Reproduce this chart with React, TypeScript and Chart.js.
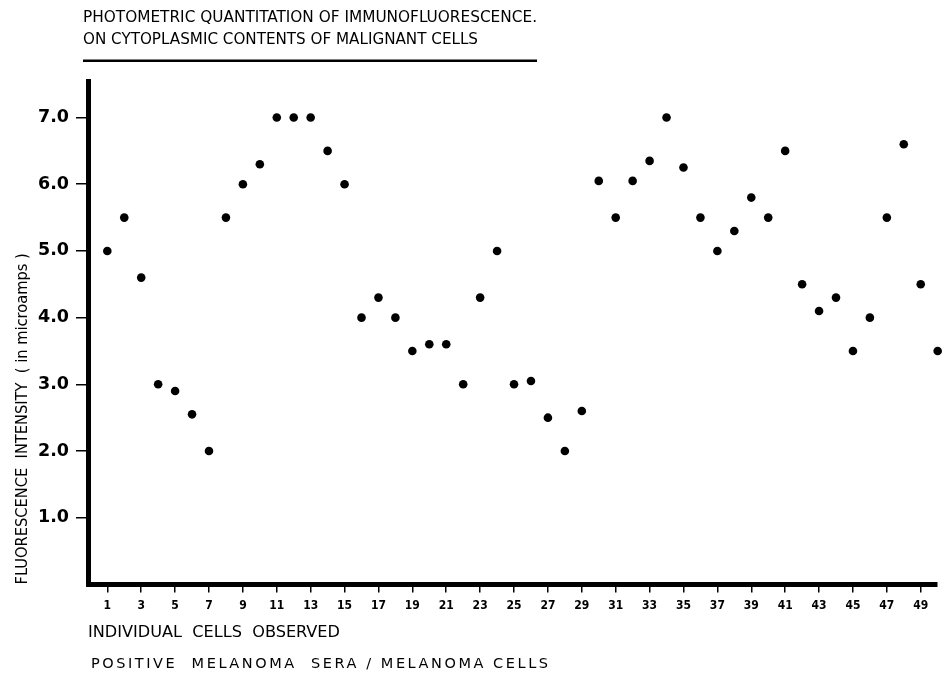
import { useEffect, useRef } from "react";
import { Chart, registerables } from "chart.js";

Chart.register(...registerables);

const cells = [
  1, 2, 3, 4, 5, 6, 7, 8, 9, 10, 11, 12, 13, 14, 15, 16, 17, 18, 19, 20, 21, 22, 23, 24, 25,
  26, 27, 28, 29, 30, 31, 32, 33, 34, 35, 36, 37, 38, 39, 40, 41, 42, 43, 44, 45, 46, 47, 48, 49, 50,
];

const intensity = [
  5.0, 5.5, 4.6, 3.0, 2.9, 2.55, 2.0, 5.5, 6.0, 6.3,
  7.0, 7.0, 7.0, 6.5, 6.0, 4.0, 4.3, 4.0, 3.5, 3.6,
  3.6, 3.0, 4.3, 5.0, 3.0, 3.05, 2.5, 2.0, 2.6, 6.05,
  5.5, 6.05, 6.35, 7.0, 6.25, 5.5, 5.0, 5.3, 5.8, 5.5,
  6.5, 4.5, 4.1, 4.3, 3.5, 4.0, 5.5, 6.6, 4.5, 3.5,
];

const xTickValues = [1, 3, 5, 7, 9, 11, 13, 15, 17, 19, 21, 23, 25, 27, 29, 31, 33, 35, 37, 39, 41, 43, 45, 47, 49];
const yTickValues = [1, 2, 3, 4, 5, 6, 7];

const titleLine1 = "PHOTOMETRIC QUANTITATION OF IMMUNOFLUORESCENCE.";
const titleLine2 = "ON CYTOPLASMIC CONTENTS OF MALIGNANT CELLS";
const yAxisTitle = "FLUORESCENCE  INTENSITY  ( in microamps )";
const xAxisTitle = "INDIVIDUAL  CELLS  OBSERVED";
const subCaption = "POSITIVE  MELANOMA  SERA / MELANOMA CELLS";

const COND = '"DejaVu Sans Condensed", "Liberation Sans Narrow", "DejaVu Sans", sans-serif';
const WIDE = '"DejaVu Sans", "Liberation Sans", sans-serif';

export default function App() {
  const canvasRef = useRef<HTMLCanvasElement | null>(null);

  useEffect(() => {
    const canvas = canvasRef.current;
    if (!canvas) return;
    const chart = new Chart(canvas, {
      type: "scatter",
      data: {
        datasets: [
          {
            data: cells.map((c, i) => ({ x: c, y: intensity[i] })),
            backgroundColor: "#000",
            borderWidth: 0,
            pointRadius: 4.3,
            clip: false as any,
          },
        ],
      },
      options: {
        animation: false,
        responsive: true,
        maintainAspectRatio: false,
        layout: { padding: { top: 81, right: 5, left: 0, bottom: 0 } },
        plugins: { legend: { display: false }, tooltip: { enabled: false } },
        scales: {
          x: {
            type: "linear",
            min: -0.14,
            max: 49.96,
            afterFit: (s: any) => {
              s.height = 90.6;
            },
            afterBuildTicks: (s: any) => {
              s.ticks = xTickValues.map((v) => ({ value: v }));
            },
            ticks: {
              autoSkip: false,
              maxRotation: 0,
              padding: 6,
              color: "#000",
              font: { family: COND, size: 12, weight: "bold" },
              callback: (v: any) => String(v),
            },
            grid: {
              drawOnChartArea: false,
              drawTicks: true,
              tickLength: 8,
              tickColor: "#000",
              lineWidth: 1.5,
            },
            border: { display: true, color: "#000", width: 5 },
          },
          y: {
            type: "linear",
            min: 0,
            max: 7.548,
            afterFit: (s: any) => {
              s.width = 88;
            },
            afterBuildTicks: (s: any) => {
              s.ticks = yTickValues.map((v) => ({ value: v }));
            },
            ticks: {
              padding: 7,
              color: "#000",
              font: { family: WIDE, size: 17.5, weight: "bold" },
              callback: (v: any) => Number(v).toFixed(1),
            },
            grid: {
              drawOnChartArea: false,
              drawTicks: true,
              tickLength: 12,
              tickColor: "#000",
              lineWidth: 1.5,
            },
            border: { display: true, color: "#000", width: 5 },
            title: {
              display: true,
              text: yAxisTitle,
              align: "start",
              color: "#000",
              font: { family: COND, size: 16.3 },
              padding: { top: 13.2, bottom: 0 },
            },
          },
        },
      },
    });
    return () => chart.destroy();
  }, []);

  const pre = { whiteSpace: "pre" as const };

  return (
    <div style={{ position: "absolute", left: 0, top: 0, width: 942, height: 675, background: "#fff" }}>
      <canvas ref={canvasRef} style={{ position: "absolute", left: 0, top: 0 }} />
      <svg
        width={942}
        height={675}
        style={{ position: "absolute", left: 0, top: 0, pointerEvents: "none" }}
      >
        <g fill="#000" style={{ fontFamily: COND }}>
          <text x={83} y={22} fontSize={15.5} textLength={454} lengthAdjust="spacingAndGlyphs" style={pre}>
            {titleLine1}
          </text>
          <text x={83} y={43.5} fontSize={15.5} textLength={395} lengthAdjust="spacingAndGlyphs" style={pre}>
            {titleLine2}
          </text>
          <rect x={83} y={59.5} width={454} height={2.5} />
          <text x={88} y={637} fontSize={15.5} textLength={252} lengthAdjust="spacingAndGlyphs" style={pre}>
            {xAxisTitle}
          </text>
          <text
            x={91}
            y={668}
            fontSize={14.5}
            textLength={457}
            lengthAdjust="spacing"
            style={{ ...pre, fontFamily: WIDE }}
          >
            {subCaption}
          </text>
        </g>
      </svg>
    </div>
  );
}
